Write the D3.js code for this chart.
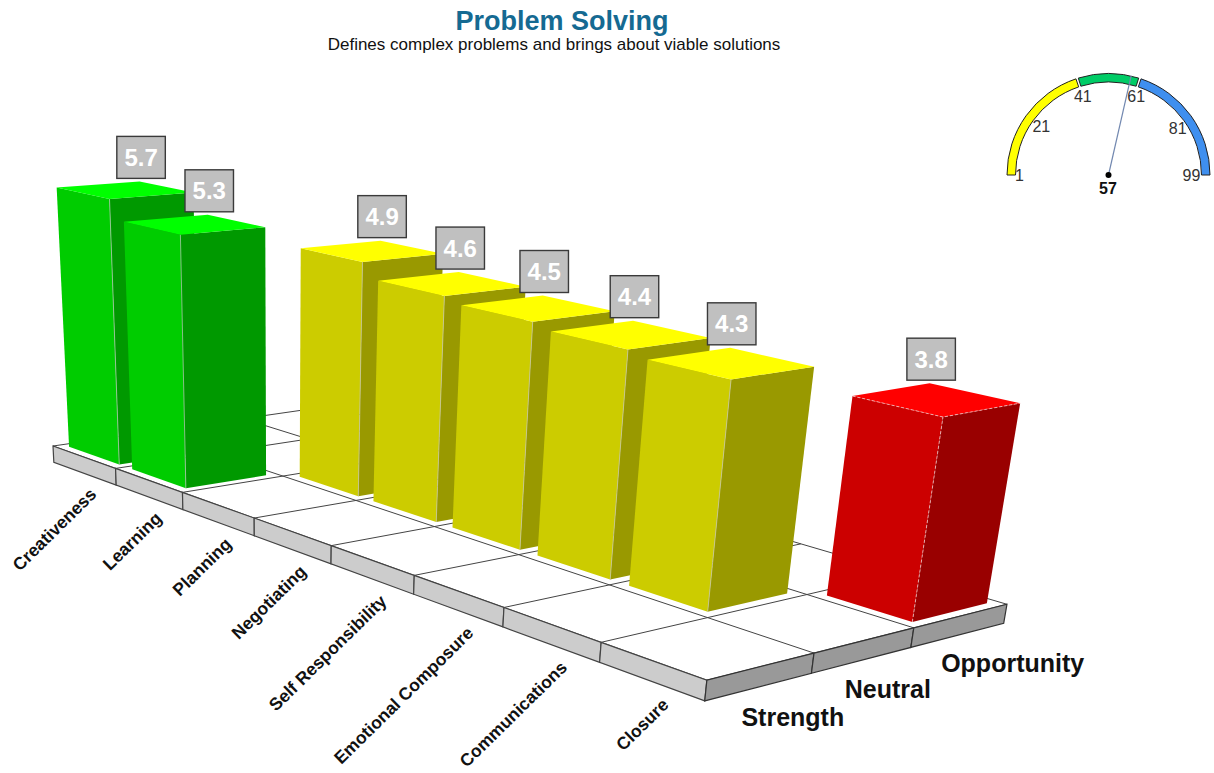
<!DOCTYPE html>
<html>
<head>
<meta charset="utf-8">
<title>Problem Solving</title>
<script src="https://cdn.jsdelivr.net/npm/d3@7"></script>
<style>
  html, body { margin: 0; padding: 0; background: #fff; }
  svg { display: block; }
  text { font-family: "Liberation Sans", Arial, sans-serif; }
</style>
</head>
<body>
<svg id="chart" width="1214" height="773"></svg>
<script>
// Chart data
const categories = ["Creativeness", "Learning", "Planning", "Negotiating",
  "Self Responsibility", "Emotional Composure", "Communications", "Closure"];
const scores = [5.7, 5.3, 4.9, 4.6, 4.5, 4.4, 4.3, 3.8];
const bandNames = ["Strength", "Neutral", "Opportunity"];
const scoreBands = ["Strength", "Strength", "Neutral", "Neutral", "Neutral",
  "Neutral", "Neutral", "Opportunity"];
const gaugeTicks = [1, 21, 41, 61, 81, 99];
const gaugeZones = [[1, 41], [41, 61], [61, 99]];
const gaugeValue = 57;

const svg = d3.select("#chart");

// Perspective camera: three vanishing points and the floor's origin on screen.
const origin = [53, 446];
const vpRow = [-1815, -223], vpDepth = [3716, -81], vpUp = [280, 4850];
const kRow = -0.03241, kDepth = 0.02735;

const rowCont = d3.scaleLinear().domain([0, categories.length]).range([0, categories.length]);
const rowBand = d3.scaleBand().domain(categories).range([0, categories.length])
  .paddingInner(0.2).paddingOuter(0.1);
const depthBand = d3.scaleBand().domain(bandNames).range([0, bandNames.length])
  .paddingInner(0.2).paddingOuter(0.1);
const heightScale = d3.scaleLinear().domain([0, 6]).range([0, -0.0585]);

function project(u, v, value) {
  const a = kRow * u, b = kDepth * v, t = heightScale(value);
  const w = 1 + a + b + t;
  return [
    (origin[0] + a * vpRow[0] + b * vpDepth[0] + t * vpUp[0]) / w,
    (origin[1] + a * vpRow[1] + b * vpDepth[1] + t * vpUp[1]) / w
  ];
}
const poly = d3.line().curve(d3.curveLinearClosed);
const seg = d3.line();

const nRows = categories.length, nBands = bandNames.length;
const slab = -0.38;

// Floor
const floor = svg.append("g");
floor.append("path")
  .attr("d", poly([project(0, 0, 0), project(nRows, 0, 0), project(nRows, nBands, 0), project(0, nBands, 0)]))
  .attr("fill", "#fff");

const rowLines = d3.range(nRows + 1), depthLines = d3.range(nBands + 1);
floor.selectAll("line.row").data(rowLines).join("path")
  .attr("d", u => seg([project(u, 0, 0), project(u, nBands, 0)]))
  .attr("fill", "none").attr("stroke", "#444").attr("stroke-width", 1);
floor.selectAll("line.depth").data(depthLines).join("path")
  .attr("d", v => seg([project(0, v, 0), project(nRows, v, 0)]))
  .attr("fill", "none").attr("stroke", "#444").attr("stroke-width", 1);

// Front and right sides of the floor slab, one panel per cell
floor.append("g").selectAll("path").data(d3.range(nRows)).join("path")
  .attr("d", u => poly([project(u, 0, 0), project(u + 1, 0, 0), project(u + 1, 0, slab), project(u, 0, slab)]))
  .attr("fill", "#cccccc").attr("stroke", "#444").attr("stroke-width", 1.2);
floor.append("g").selectAll("path").data(d3.range(nBands)).join("path")
  .attr("d", v => poly([project(nRows, v, 0), project(nRows, v + 1, 0), project(nRows, v + 1, slab), project(nRows, v, slab)]))
  .attr("fill", "#999999").attr("stroke", "#333").attr("stroke-width", 1.2);

// Bars
const shades = {
  Strength:    { top: "#00ff00", front: "#00cc00", side: "#009900", edge: "#a8c8a8", dash: null },
  Neutral:     { top: "#ffff00", front: "#cccc00", side: "#999900", edge: "#c8c8a0", dash: null },
  Opportunity: { top: "#ff0000", front: "#cc0000", side: "#990000", edge: "#f0c8c8", dash: "3,2" }
};
const bars = categories.map((name, i) => {
  const band = scoreBands[i];
  const u0 = rowBand(name), u1 = u0 + rowBand.bandwidth();
  const v0 = depthBand(band), v1 = v0 + depthBand.bandwidth();
  return { name, value: scores[i], band, u0, u1, v0, v1 };
});

const barG = svg.append("g").selectAll("g").data(bars).join("g");
barG.append("path")
  .attr("d", d => poly([project(d.u0, d.v0, 0), project(d.u1, d.v0, 0), project(d.u1, d.v1, 0), project(d.u0, d.v1, 0)]))
  .attr("fill", "#fff").attr("stroke", "#fff").attr("stroke-width", 4);
barG.append("path")
  .attr("d", d => poly([project(d.u0, d.v0, 0), project(d.u1, d.v0, 0), project(d.u1, d.v0, d.value), project(d.u0, d.v0, d.value)]))
  .attr("fill", d => shades[d.band].front);
barG.append("path")
  .attr("d", d => poly([project(d.u1, d.v0, 0), project(d.u1, d.v1, 0), project(d.u1, d.v1, d.value), project(d.u1, d.v0, d.value)]))
  .attr("fill", d => shades[d.band].side);
barG.append("path")
  .attr("d", d => poly([project(d.u0, d.v0, d.value), project(d.u1, d.v0, d.value), project(d.u1, d.v1, d.value), project(d.u0, d.v1, d.value)]))
  .attr("fill", d => shades[d.band].top);
barG.append("path")
  .attr("d", d => seg([project(d.u1, d.v0, 0), project(d.u1, d.v0, d.value)]))
  .attr("fill", "none")
  .attr("stroke", d => shades[d.band].edge)
  .attr("stroke-dasharray", d => shades[d.band].dash)
  .attr("stroke-width", 0.8);
barG.filter(d => shades[d.band].dash).append("path")
  .attr("d", d => seg([project(d.u0, d.v0, d.value), project(d.u1, d.v0, d.value), project(d.u1, d.v1, d.value)]))
  .attr("fill", "none")
  .attr("stroke", d => shades[d.band].edge)
  .attr("stroke-dasharray", d => shades[d.band].dash)
  .attr("stroke-width", 0.8);

// Value boxes sit over the far corner of each bar's top
const boxW = 48.5, boxH = 42;
const boxes = svg.append("g").selectAll("g").data(bars).join("g")
  .attr("transform", d => {
    const [x, y] = project(d.u0, d.v1, d.value);
    return `translate(${x + 1.5},${y - 3})`;
  });
boxes.append("rect")
  .attr("x", -boxW / 2).attr("y", -boxH).attr("width", boxW).attr("height", boxH)
  .attr("fill", "#c0c0c0").attr("stroke", "#3a3a3a").attr("stroke-width", 1.4);
boxes.append("text")
  .attr("y", -boxH / 2 + 8.5).attr("text-anchor", "middle")
  .attr("font-size", 24).attr("font-weight", "bold").attr("fill", "#fff")
  .text(d => d.value.toFixed(1));

// Row labels along the front edge
svg.append("g").selectAll("text").data(categories).join("text")
  .attr("transform", (d, i) => {
    const [x, y] = project(rowCont(i) + 0.5, 0, slab);
    return `translate(${x + 13 + 0.8 * i},${y + 22 + 0.4 * i}) rotate(-44.5)`;
  })
  .attr("text-anchor", "end").attr("font-size", 17.5).attr("font-weight", "bold")
  .attr("fill", "#111")
  .text(d => d);

// Band labels along the right edge
svg.append("g").selectAll("text").data(bandNames).join("text")
  .attr("x", d => project(nRows, depthBand(d) + 0.4, 0)[0] - 20)
  .attr("y", (d, i) => project(nRows, depthBand(d) + 0.4, 0)[1] + 60 - 2 * i)
  .attr("font-size", 25).attr("font-weight", "bold").attr("fill", "#111")
  .text(d => d);

// Title block
svg.append("text").attr("x", 562).attr("y", 30).attr("text-anchor", "middle")
  .attr("font-size", 27).attr("font-weight", "bold").attr("fill", "#156a92")
  .text("Problem Solving");
svg.append("text").attr("x", 554).attr("y", 49.5).attr("text-anchor", "middle")
  .attr("font-size", 17).attr("fill", "#111")
  .text("Defines complex problems and brings about viable solutions");

// Gauge
const gaugeC = [1108.5, 175], gaugeOuter = 101.5, gaugeInner = 93;
const tickDeg = d3.scaleLinear().domain(gaugeTicks).range([-90, -54, -18, 18, 54, 90]);
const needleDeg = d3.scaleLinear().domain([1, 99]).range([-90, 90]);
const zoneFill = d3.scaleOrdinal().domain(gaugeZones.map(z => z[0]))
  .range(["#ffff00", "#00cc66", "#3f8fef"]);
const rad = Math.PI / 180;
const arcGen = d3.arc().innerRadius(gaugeInner).outerRadius(gaugeOuter);
const gauge = svg.append("g").attr("transform", `translate(${gaugeC})`);
gauge.selectAll("path.zone").data(gaugeZones).join("path")
  .attr("d", z => arcGen({
    startAngle: (tickDeg(z[0]) + (z[0] === 1 ? 0 : 0.7)) * rad,
    endAngle: (tickDeg(z[1]) - (z[1] === 99 ? 0 : 0.7)) * rad
  }))
  .attr("fill", z => zoneFill(z[0])).attr("stroke", "#222").attr("stroke-width", 1);
gauge.selectAll("text.tick").data(gaugeTicks).join("text")
  .attr("x", d => (d === 1 ? 89 : 83) * Math.sin(tickDeg(d) * rad) + (d === 61 || d === 81 ? 2 : 0))
  .attr("y", d => -(d === 1 ? 89 : 83) * Math.cos(tickDeg(d) * rad) + 5.5 + (d === 81 ? 2.5 : 0))
  .attr("text-anchor", "middle").attr("font-size", 16).attr("fill", "#333")
  .text(d => d);
gauge.append("path")
  .attr("d", seg([[0, 0], [102 * Math.sin(needleDeg(gaugeValue) * rad), -102 * Math.cos(needleDeg(gaugeValue) * rad)]]))
  .attr("stroke", "#7288b0").attr("stroke-width", 1.2).attr("fill", "none");
gauge.append("circle").attr("r", 3).attr("fill", "#000");
gauge.append("text").attr("y", 19).attr("x", -0.5).attr("text-anchor", "middle")
  .attr("font-size", 16).attr("font-weight", "bold").attr("fill", "#111")
  .text(gaugeValue);
</script>
</body>
</html>
